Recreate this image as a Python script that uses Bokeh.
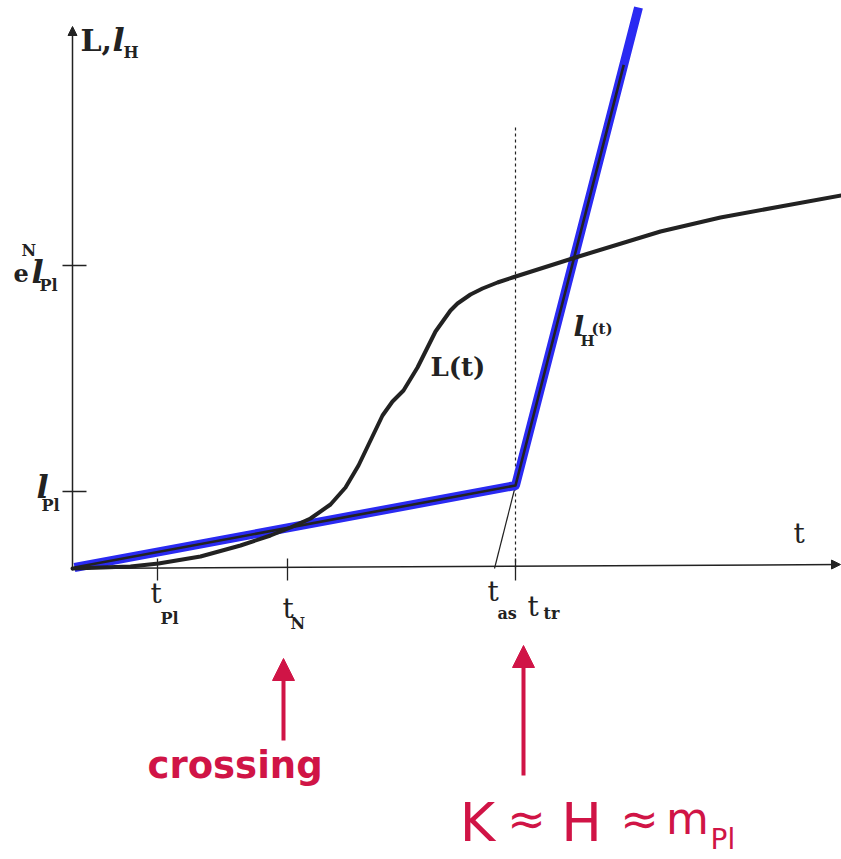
from bokeh.plotting import figure
from bokeh.models import Range1d, Arrow, NormalHead
from bokeh.core.properties import value
from bokeh.embed import file_html
from bokeh.resources import INLINE

# ---- schematic data (arbitrary units: time t, length scale L) ----
# Hubble-crossing length L(t): slow start, sigmoid rise, then slow growth
curve_t = [0.0, 2.8, 5.8, 8.6, 12.8, 16.8, 19.8, 21.8, 23.8, 25.8, 27.3, 28.6,
           29.8, 31.0, 32.0, 33.1, 34.5, 36.3, 37.8, 38.5, 39.8, 41.0, 42.5,
           44.0, 50.3, 58.8, 64.8, 70.8, 76.9]
curve_L = [0.0, 0.1, 0.2, 0.5, 1.2, 2.3, 3.3, 4.1, 5.0, 6.4, 8.1, 10.3,
           12.8, 15.3, 16.7, 17.8, 20.1, 23.7, 25.8, 26.5, 27.4, 28.0, 28.6,
           29.1, 31.1, 33.7, 35.1, 36.2, 37.3]

# Hubble length l_H(t): gentle slope until t_tr, then steep
lh_t = [0.2, 44.3, 56.6]
lh_L = [0.1, 8.3, 56.1]

# tick positions on the axes
t_ticks = [8.5, 21.5]          # t_Pl, t_N
t_as = 42.2
t_tr = 44.3
L_ticks = [7.7, 30.3]          # l_Pl, e^N l_Pl

INK = "#222222"
BLUE = "#2a2af2"
RED = "#d01446"
SERIF = "DejaVu Serif"
SANS = "DejaVu Sans"

p = figure(width=841, height=859,
           x_range=Range1d(-7.2, 76.9), y_range=Range1d(-29.1, 56.8),
           output_backend="svg", toolbar_location=None,
           x_axis_location=None, y_axis_location=None,
           min_border=0, outline_line_color=None,
           background_fill_color="white", border_fill_color="white")
p.grid.visible = False


def label(x, y, s, size, style="normal", font=SERIF, color=INK, align="left"):
    # y is the intended baseline; lift slightly so glyphs sit on it
    p.text(x=[x], y=[y + 0.033 * size], text=[s], text_font=value(font),
           text_font_size=f"{size}px", text_font_style=style,
           text_color=color, text_align=align, text_baseline="alphabetic")


# axes with arrow heads
p.add_layout(Arrow(end=NormalHead(size=9, fill_color=INK, line_color=INK),
                   x_start=0, y_start=-0.2, x_end=0, y_end=54.2,
                   line_color=INK, line_width=1.5))
p.add_layout(Arrow(end=NormalHead(size=9, fill_color=INK, line_color=INK),
                   x_start=0, y_start=0, x_end=76.8, y_end=0.4,
                   line_color=INK, line_width=1.5))

# tick marks
p.segment(x0=t_ticks + [t_tr], y0=-1.2, x1=t_ticks + [t_tr], y1=1.0,
          line_color=INK, line_width=1.3)
p.segment(x0=-1.0, y0=L_ticks, x1=1.4, y1=L_ticks, line_color=INK, line_width=1.3)

# vertical dashed marker at the transition time
p.segment(x0=[t_tr], y0=[0.0], x1=[t_tr], y1=[44.3],
          line_color=INK, line_width=1.2, line_dash="3 3")

# extension of the steep branch back to the time axis (defines t_as)
p.line(x=[t_as, lh_t[1]], y=[0.0, lh_L[1]], line_color=INK, line_width=1.2)

# l_H(t): blue highlight with a thin dark core
p.line(x=lh_t, y=lh_L, line_color=BLUE, line_width=9, line_join="round")
core_t = [lh_t[0], lh_t[1], lh_t[1] + 0.88 * (lh_t[2] - lh_t[1])]
core_L = [lh_L[0], lh_L[1], lh_L[1] + 0.88 * (lh_L[2] - lh_L[1])]
p.line(x=core_t, y=core_L, line_color=INK, line_width=2.6, line_join="round")

# L(t)
p.line(x=curve_t, y=curve_L, line_color=INK, line_width=4,
       line_join="round", line_cap="round")

# axis titles
label(0.8, 51.8, "L,", 30, "bold")
label(4.0, 51.8, "l", 32, "bold italic")
label(5.1, 51.1, "H", 16, "bold")
label(72.1, 2.6, "t", 28)

# vertical tick labels
label(-5.9, 28.8, "e", 24, "bold")
label(-5.1, 31.3, "N", 16, "bold")
label(-4.1, 28.6, "l", 32, "bold italic")
label(-3.3, 27.8, "Pl", 16, "bold")
label(-3.6, 7.1, "l", 32, "bold italic")
label(-3.1, 5.8, "Pl", 16, "bold")

# horizontal tick labels
label(t_ticks[0] - 0.7, -3.4, "t", 28)
label(t_ticks[0] + 0.3, -5.5, "Pl", 16, "bold")
label(t_ticks[1] - 0.5, -4.9, "t", 28)
label(t_ticks[1] + 0.3, -6.0, "N", 16, "bold")
label(t_as - 0.7, -3.2, "t", 28)
label(t_as + 0.3, -5.0, "as", 16, "bold")
label(t_tr + 1.2, -4.7, "t", 28)
label(t_tr + 2.8, -5.0, "tr", 16, "bold")

# curve labels
label(35.8, 19.3, "L(t)", 26, "bold")
label(50.1, 23.3, "l", 28, "bold italic")
label(50.8, 22.3, "H", 15, "bold")
label(51.9, 23.5, "(t)", 15, "bold")

# red annotations: arrows and notes
for ax, y0, y1 in [(21.1, -17.2, -9.0), (45.1, -20.7, -7.7)]:
    p.add_layout(Arrow(end=NormalHead(size=22, fill_color=RED, line_color=RED),
                       x_start=ax, y_start=y0, x_end=ax, y_end=y1,
                       line_color=RED, line_width=4))

label(7.5, -20.9, "crossing", 37, "bold", SANS, RED)
label(40.5, -27.2, "K", 54, "normal", SANS, RED, "center")
label(45.4, -26.6, "≈", 46, "normal", SANS, RED, "center")
label(50.9, -27.2, "H", 54, "normal", SANS, RED, "center")
label(56.7, -26.6, "≈", 46, "normal", SANS, RED, "center")
label(61.5, -26.5, "m", 44, "normal", SANS, RED, "center")
label(63.8, -28.0, "Pl", 28, "normal", SANS, RED)

open("out.html", "w").write(file_html(p, INLINE))
